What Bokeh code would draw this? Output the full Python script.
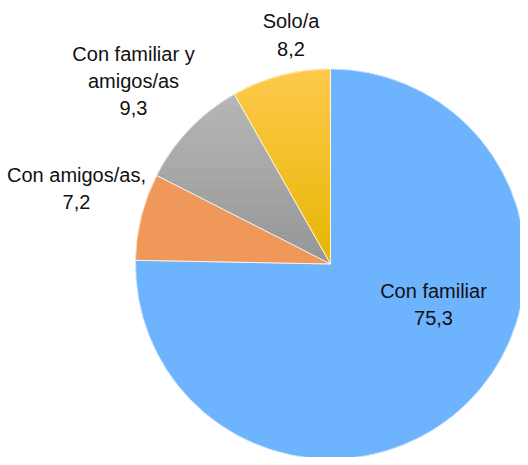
import numpy as np
from bokeh.plotting import figure
from bokeh.models import Range1d
from bokeh.core.properties import value
from bokeh.embed import file_html
from bokeh.resources import INLINE

# ---- data ----
categories = ["Con familiar", "Con amigos/as,", "Con familiar y\namigos/as", "Solo/a"]
values = [75.3, 7.2, 9.3, 8.2]

# ---- style / layout ----
W, H = 520, 457
cx, cy, R = 330, 193.5, 195
solid_colors = ["#6DB3FE", "#F0985A", None, None]
grad_colors = [None, None, ("#B6B6B6", "#959595"), ("#FFC94C", "#E6B600")]
label_dx = [103, -254, -197, -39.5]
label_dy = [-40.7, 75.3, 183, 229]
FONT = "Liberation Sans"

p = figure(width=W, height=H, output_backend="svg", toolbar_location=None,
           x_range=Range1d(0, W), y_range=Range1d(0, H), min_border=0)
p.axis.visible = False
p.grid.visible = False
p.outline_line_color = None
p.background_fill_color = "white"
p.border_fill_color = "white"

total = sum(values)
fr = np.array(values) / total
cum = np.concatenate([[0], np.cumsum(fr)])
starts = np.pi / 2 - 2 * np.pi * cum[:-1]
ends = np.pi / 2 - 2 * np.pi * cum[1:]


def wedge_poly(a0, a1, n=200):
    t = np.linspace(a0, a1, n)
    xs = [cx] + list(cx + R * np.cos(t))
    ys = [cy] + list(cy + R * np.sin(t))
    return list(zip(xs, ys))


def clip_y(poly, lo, hi):
    def clip(pts, keep, inter):
        out = []
        n = len(pts)
        for i in range(n):
            a, b = pts[i], pts[(i + 1) % n]
            ka, kb = keep(a), keep(b)
            if ka:
                out.append(a)
                if not kb:
                    out.append(inter(a, b))
            elif kb:
                out.append(inter(a, b))
        return out

    def inter_at(yv):
        def f(a, b):
            t = (yv - a[1]) / (b[1] - a[1])
            return (a[0] + t * (b[0] - a[0]), yv)
        return f
    pts = clip(poly, lambda q: q[1] >= lo, inter_at(lo))
    if not pts:
        return []
    pts = clip(pts, lambda q: q[1] <= hi, inter_at(hi))
    return pts


def hex2rgb(h):
    return np.array([int(h[i:i + 2], 16) for i in (1, 3, 5)], dtype=float)


def rgb2hex(c):
    return "#%02x%02x%02x" % tuple(int(round(v)) for v in c)


for i in range(len(values)):
    if solid_colors[i]:
        p.wedge(x=cx, y=cy, radius=R, start_angle=starts[i], end_angle=ends[i],
                direction="clock", fill_color=solid_colors[i], line_color=solid_colors[i],
                line_width=0.5)
    else:
        poly = wedge_poly(starts[i], ends[i])
        ys = [q[1] for q in poly]
        ytop, ybot = max(ys), min(ys)
        ctop, cbot = hex2rgb(grad_colors[i][0]), hex2rgb(grad_colors[i][1])
        nb = 60
        edges = np.linspace(ybot, ytop, nb + 1)
        bx, by, bc = [], [], []
        for k in range(nb):
            part = clip_y(poly, edges[k], edges[k + 1])
            if len(part) < 3:
                continue
            t = (0.5 * (edges[k] + edges[k + 1]) - ybot) / (ytop - ybot)
            c = rgb2hex(cbot + (ctop - cbot) * t)
            bx.append([q[0] for q in part])
            by.append([q[1] for q in part])
            bc.append(c)
        p.patches(xs=bx, ys=by, fill_color=bc, line_color=bc, line_width=0.8)

# thin light separators
p.wedge(x=cx, y=cy, radius=R, start_angle=list(starts), end_angle=list(ends),
        direction="clock", fill_color=None, line_color="white", line_alpha=0.6,
        line_width=1)

labels = [f"{c}\n{str(v).replace('.', ',')}" for c, v in zip(categories, values)]
lx = [cx + d for d in label_dx]
ly = [cy + d for d in label_dy]
p.text(x=lx, y=ly, text=labels, text_align="center", text_baseline="middle",
       text_font=value(FONT), text_font_size="20px", text_color="#111111",
       text_line_height=1.23)

open("out.html", "w").write(file_html(p, INLINE))
